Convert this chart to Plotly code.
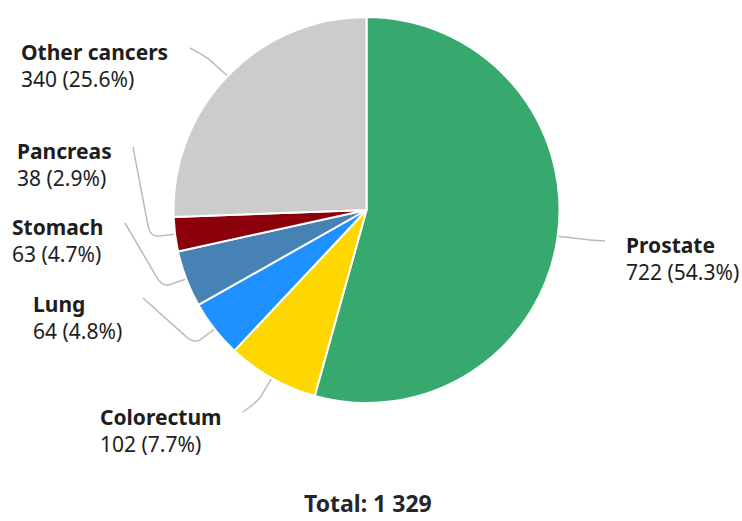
import math
import plotly.graph_objects as go

labels = ["Prostate", "Colorectum", "Lung", "Stomach", "Pancreas", "Other cancers"]
values = [722, 102, 64, 63, 38, 340]
colors = ["#37A96F", "#FFD700", "#1E90FF", "#4682B4", "#8B000A", "#CCCCCC"]

W, H = 742, 521
cx, cy, R = 366.5, 210, 193

# label layout in pixels: left x, cap-top y of first line, connector end point
label_left = [626, 100, 33, 12, 17, 21]
label_top = [240, 412, 299, 222, 146, 47]
conn_end = [(605, 241), (243, 412), (143, 298), (125, 223), (133, 147), (190, 48)]

total = sum(values)
FONT = "Noto Sans"
TXT = "#1E1E1E"
FS = 21
CAP_OFF = 11    # box top -> cap top
LINE = 27       # distance between the two label lines

fig = go.Figure()

# leader lines, built from each slice's mid angle
cum = 0
for i, v in enumerate(values):
    a = 2 * math.pi * (cum + v / 2) / total
    cum += v
    dx, dy = math.sin(a), -math.cos(a)
    E = (cx + R * dx, cy + R * dy)
    B = (cx + (R + 25) * dx, cy + (R + 25) * dy)
    L = conn_end[i]
    def toward(p, q, dist):
        lx, ly = q[0] - p[0], q[1] - p[1]
        n = math.hypot(lx, ly) or 1
        t = min(dist / n, 0.5)
        return (p[0] + lx * t, p[1] + ly * t)
    P1 = toward(B, E, 10)
    P2 = toward(B, L, 12)
    xs, ys = [E[0]], [E[1]]
    for k in range(21):
        t = k / 20
        xs.append((1 - t) ** 2 * P1[0] + 2 * (1 - t) * t * B[0] + t ** 2 * P2[0])
        ys.append((1 - t) ** 2 * P1[1] + 2 * (1 - t) * t * B[1] + t ** 2 * P2[1])
    xs.append(L[0]); ys.append(L[1])
    fig.add_trace(go.Scatter(x=xs, y=ys, mode="lines", line=dict(color="#BBBBBB", width=1.5),
                             hoverinfo="skip", showlegend=False))

fig.add_trace(go.Pie(
    labels=labels, values=values, sort=False, direction="clockwise", rotation=0,
    marker=dict(colors=colors, line=dict(color="white", width=2)),
    textinfo="none", showlegend=False,
    domain=dict(x=[(cx - R) / W, (cx + R) / W], y=[1 - (cy + R) / H, 1 - (cy - R) / H]),
))

annotations = []
for i, (lab, v) in enumerate(zip(labels, values)):
    pct = v / total * 100
    annotations.append(dict(x=label_left[i] - 2, y=label_top[i] - CAP_OFF, xref="x", yref="y",
                            xanchor="left", yanchor="top", showarrow=False,
                            text=f"<b>{lab}</b>", font=dict(size=FS, color=TXT, family=FONT)))
    annotations.append(dict(x=label_left[i] - 2, y=label_top[i] + LINE - CAP_OFF, xref="x", yref="y",
                            xanchor="left", yanchor="top", showarrow=False,
                            text=f"{v} ({pct:.1f}%)", font=dict(size=FS, color=TXT, family=FONT)))

annotations.append(dict(x=cx + 1, y=497 - 12, xref="x", yref="y", xanchor="center", yanchor="top",
                        showarrow=False, text=f"<b>Total: {total:,}</b>".replace(",", " "),
                        font=dict(size=23, color="#25262B", family=FONT)))

fig.update_layout(
    width=W, height=H, margin=dict(l=0, r=0, t=0, b=0),
    paper_bgcolor="white", plot_bgcolor="white",
    font=dict(family=FONT),
    xaxis=dict(range=[0, W], visible=False, fixedrange=True, domain=[0, 1]),
    yaxis=dict(range=[H, 0], visible=False, fixedrange=True, domain=[0, 1]),
    annotations=annotations,
)

fig.write_html("out.html", config={"displayModeBar": False},
               post_script="document.body.style.margin='0px';")
